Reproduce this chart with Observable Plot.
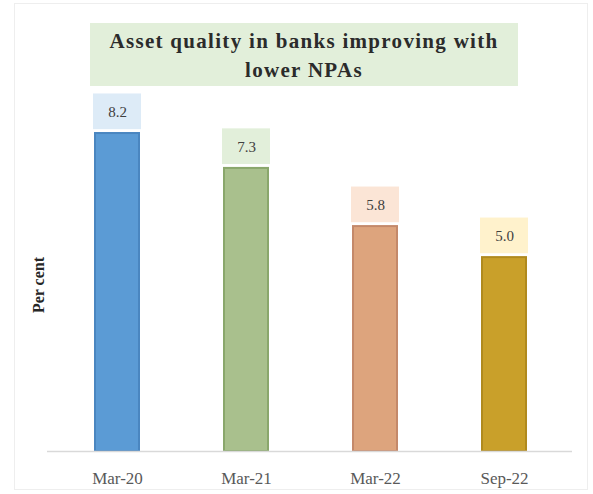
<!DOCTYPE html>
<html><head><meta charset="utf-8">
<script src="https://cdn.jsdelivr.net/npm/d3@7"></script>
<script src="https://cdn.jsdelivr.net/npm/@observablehq/plot@0.6"></script>
<style>
body{margin:0;background:#fff;}
#wrap{position:relative;width:593px;height:494px;overflow:hidden;}
#frame{position:absolute;left:14px;top:3px;width:574px;height:487px;border:1px solid #eeeeee;box-sizing:border-box;}
#title{position:absolute;left:90px;top:23px;width:428px;height:63px;background:#e2efda;
 font-family:"Liberation Serif","Times New Roman",serif;font-weight:bold;font-size:21px;letter-spacing:1.3px;line-height:29px;color:#2b2b2b;text-align:center;padding-top:4px;box-sizing:border-box;}
#chart{position:absolute;left:0;top:88px;}
</style></head>
<body><div id="wrap"><div id="frame"></div><div id="title">Asset quality in banks improving with<br>lower NPAs</div><div id="chart"></div></div>
<script>
const categories = ["Mar-20","Mar-21","Mar-22","Sep-22"];
const values = [8.2, 7.3, 5.8, 5.0];
const barColors = ["#5b9bd5","#a9c08d","#dda47d","#c9a02a"];
const edgeColors = ["#4a86c0","#8aa76c","#c4896a","#b08a1e"];
const boxColors = ["#ddebf7","#e2efda","#fbe5d6","#fff2cc"];
const yLabel = "Per cent";

const data = categories.map((c,i)=>({cat:c, v:values[i], fill:barColors[i], edge:edgeColors[i], box:boxColors[i], label:values[i].toFixed(1)}));

const plot = Plot.plot({
  width: 593, height: 406,
  marginLeft: 47, marginRight: 21, marginTop: 14, marginBottom: 43,
  x: {domain: categories, paddingInner: 0.66, paddingOuter: 0.33, insetLeft: 5, insetRight: 4, label: null},
  y: {domain: [0, 9], axis: null},
  style: {fontFamily: "'Liberation Serif','Times New Roman',serif", fontSize: "17px", color: "#595959", background: "transparent"},
  marks: [
    Plot.axisX({tickSize: 0, tickPadding: 20, fontSize: 17, fill: "#595959"}),
    Plot.barY(data, {x: "cat", y1: d => d.v + 0.1, y2: d => d.v + 1.02, fill: "box", insetLeft: -2, insetRight: -2}),
    Plot.text(data, {x: "cat", y: d => d.v + 0.56, text: "label", fill: "#404040", fontSize: 15}),
    Plot.barY(data, {x: "cat", y: "v", fill: "fill", stroke: "edge", strokeWidth: 2}),
    Plot.ruleY([0], {stroke: "#d9d9d9", strokeWidth: 1.5}),
    Plot.text([yLabel], {frameAnchor: "left", rotate: -90, textAnchor: "middle", lineAnchor: "middle", dx: -9, dy: 8, fontWeight: "bold", fontSize: 16, fill: "#262626"})
  ]
});
document.getElementById("chart").appendChild(plot);
</script></body></html>
